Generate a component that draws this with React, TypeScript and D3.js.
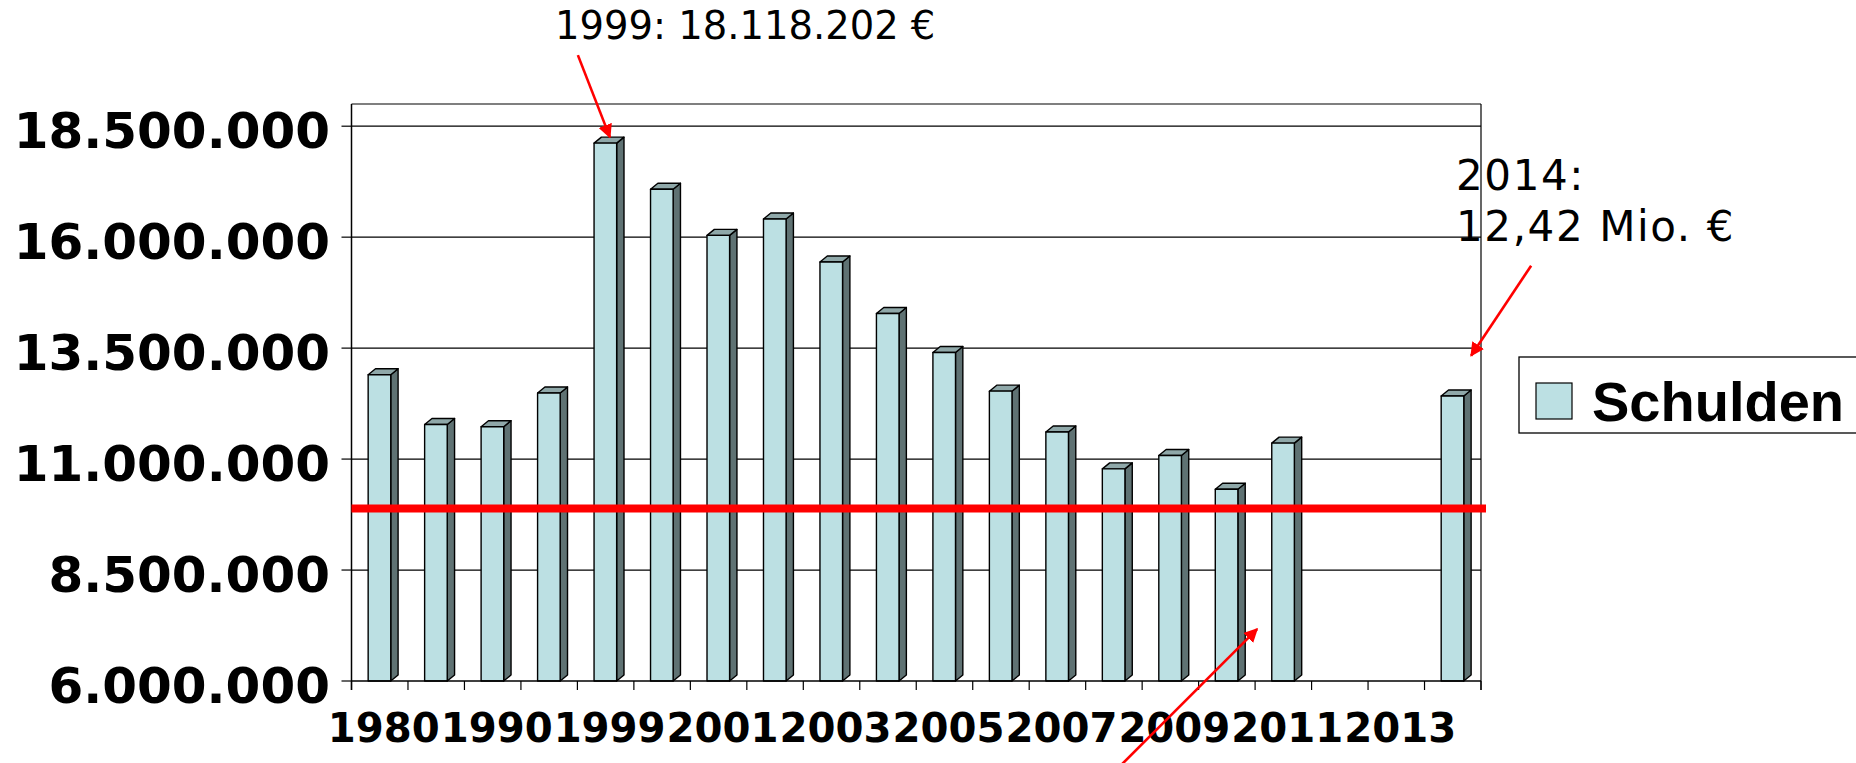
import React from "react"
import * as d3 from "d3"

// Schuldenstand (Euro) je Jahr; 2012 und 2013 ohne Wert
const years = [
  "1980", "1985", "1990", "1995", "1999", "2000", "2001", "2002", "2003", "2004",
  "2005", "2006", "2007", "2008", "2009", "2010", "2011", "2012", "2013", "2014",
]
const schulden: (number | null)[] = [
  12900000, 11780000, 11730000, 12490000, 18118202, 17080000, 16040000, 16410000, 15440000, 14280000,
  13400000, 12530000, 11610000, 10780000, 11080000, 10320000, 11360000, null, null, 12420000,
]
const yTicks = [6000000, 8500000, 11000000, 13500000, 16000000, 18500000]
const yMax = 19000000
const referenceLevel = 9885000
const seriesName = "Schulden"
const note1999 = "1999: 18.118.202 €"
const note2014 = ["2014:", "12,42 Mio. €"]

const W = 1856
const H = 763
const margin = { left: 351.5, right: 1481, top: 104, bottom: 681 }

const FRONT = "#BCE0E3"
const SIDE = "#5F7273"
const TOP = "#8FA8A9"
const RED = "#FF0000"

const de = d3.formatLocale({ decimal: ",", thousands: ".", grouping: [3], currency: ["", " €"] })
const fmt = de.format(",.0f")

export default function App() {
  const x = d3.scaleBand<string>().domain(years).range([margin.left, margin.right]).padding(0)
  const y = d3.scaleLinear().domain([yTicks[0], yMax]).range([margin.bottom, margin.top])
  const bw = x.bandwidth()
  const fw = bw * 0.4
  const dx = bw * 0.13
  const dy = 6
  const base = y(yTicks[0])

  const bars = years
    .map((yr, i) => ({ yr, v: schulden[i] }))
    .filter((d) => d.v !== null) as { yr: string; v: number }[]

  const frontX = (yr: string) => (x(yr) ?? 0) + bw * 0.295

  // arrow geometry tied to the scales
  const a1Tip: [number, number] = [frontX("1999") + fw * 0.7, y(18118202) - dy]
  const a1Start: [number, number] = [a1Tip[0] - 32, a1Tip[1] - 82]
  const a2Tip: [number, number] = [frontX("2014") + fw + dx, y(13330000)]
  const a2Start: [number, number] = [a2Tip[0] + 60, a2Tip[1] - 90]
  const a3Tip: [number, number] = [(x("2011") ?? 0) + 2, y(7170000)]
  const a3Start: [number, number] = [a3Tip[0] - 142, a3Tip[1] + 142]

  const boundaries = d3.range(years.length + 1).map((i) => margin.left + i * bw)

  return (
    <svg
      width={W}
      height={H}
      style={{ position: "fixed", left: 0, top: 0, background: "#fff" }}
      fontFamily="'DejaVu Sans', Verdana, sans-serif"
    >
      <defs>
        <marker
          id="arrow"
          viewBox="0 0 10 10"
          refX="9"
          refY="5"
          markerWidth="14"
          markerHeight="14"
          markerUnits="userSpaceOnUse"
          orient="auto"
        >
          <path d="M0,0 L10,5 L0,10 Z" fill={RED} />
        </marker>
      </defs>
      <rect width={W} height={H} fill="#fff" />

      {/* gridlines and frame */}
      {yTicks.slice(1).map((t) => (
        <line key={t} x1={margin.left} x2={margin.right} y1={y(t)} y2={y(t)} stroke="#000" strokeWidth={1.2} />
      ))}
      <line x1={margin.left} x2={margin.right} y1={y(yMax)} y2={y(yMax)} stroke="#000" strokeWidth={1.2} />
      <line x1={margin.right} x2={margin.right} y1={y(yMax)} y2={base + 9} stroke="#000" strokeWidth={1.2} />

      {/* bars */}
      {bars.map((d) => {
        const x0 = frontX(d.yr)
        const top = y(d.v)
        return (
          <g key={d.yr} stroke="#000" strokeWidth={1.4} strokeLinejoin="round">
            <polygon
              points={`${x0 + fw},${top} ${x0 + fw + dx},${top - dy} ${x0 + fw + dx},${base - dy} ${x0 + fw},${base}`}
              fill={SIDE}
            />
            <polygon
              points={`${x0},${top} ${x0 + dx},${top - dy} ${x0 + fw + dx},${top - dy} ${x0 + fw},${top}`}
              fill={TOP}
            />
            <rect x={x0} y={top} width={fw} height={base - top} fill={FRONT} />
          </g>
        )
      })}

      {/* axes */}
      <line x1={margin.left} x2={margin.left} y1={y(yMax)} y2={base + 9} stroke="#000" strokeWidth={1.5} />
      <line x1={margin.left} x2={margin.right} y1={base} y2={base} stroke="#000" strokeWidth={1.5} />
      {yTicks.map((t) => (
        <line key={t} x1={margin.left - 10} x2={margin.left} y1={y(t)} y2={y(t)} stroke="#000" strokeWidth={1.2} />
      ))}
      {boundaries.map((bx) => (
        <line key={bx} x1={bx} x2={bx} y1={base} y2={base + 9} stroke="#000" strokeWidth={1.2} />
      ))}
      {yTicks.map((t) => (
        <text key={t} x={330} y={y(t) + 22} textAnchor="end" fontWeight="bold" fontSize={50} fill="#000">
          {fmt(t)}
        </text>
      ))}
      {years
        .filter((_, i) => i % 2 === 0)
        .map((yr) => (
          <text
            key={yr}
            x={(x(yr) ?? 0) + bw / 2 + 4}
            y={742}
            textAnchor="middle"
            fontWeight="bold"
            fontSize={41}
            textLength={112}
            lengthAdjust="spacingAndGlyphs"
            fill="#000"
          >
            {yr}
          </text>
        ))}

      {/* reference line */}
      <line
        x1={margin.left}
        x2={margin.right + 5}
        y1={y(referenceLevel)}
        y2={y(referenceLevel)}
        stroke={RED}
        strokeWidth={8}
      />

      {/* legend */}
      <rect x={1519} y={357} width={345} height={76} fill="#fff" stroke="#000" strokeWidth={1.3} />
      <rect x={1536} y={383} width={36} height={36} fill={FRONT} stroke="#000" strokeWidth={1.2} />
      <text x={1592} y={421} fontFamily="'Liberation Sans', Arial, sans-serif" fontWeight="bold" fontSize={56}>
        {seriesName}
      </text>

      {/* annotations */}
      <text x={555} y={39} fontSize={38.5} fill="#000">
        {note1999}
      </text>
      {note2014.map((s, i) => (
        <text key={s} x={1456} y={190 + i * 51} fontSize={42} letterSpacing={1.6} fill="#000">
          {s}
        </text>
      ))}
      {[
        [a1Start, a1Tip],
        [a2Start, a2Tip],
        [a3Start, a3Tip],
      ].map(([s, t], i) => (
        <line
          key={i}
          x1={s[0]}
          y1={s[1]}
          x2={t[0]}
          y2={t[1]}
          stroke={RED}
          strokeWidth={2.6}
          markerEnd="url(#arrow)"
        />
      ))}
    </svg>
  )
}
